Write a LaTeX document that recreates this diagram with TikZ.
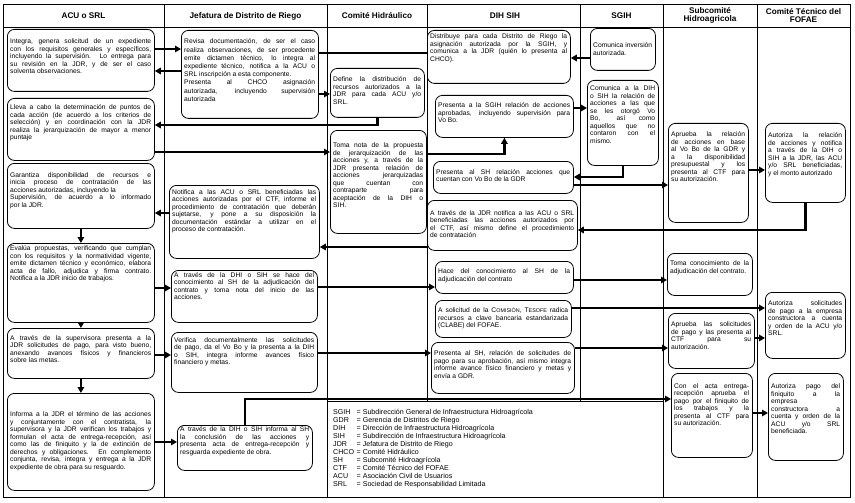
\documentclass[tikz,border=0pt]{standalone}
\usepackage{fontspec}
\setmainfont{Liberation Sans}
\usetikzlibrary{arrows.meta}
\newcommand\bxfont{\fontsize{6.7pt}{7.5pt}\selectfont\lineskiplimit=-5pt }
\newcommand\lgfont{\fontsize{7.1pt}{8pt}\selectfont\lineskiplimit=-5pt }
\newcommand\jl[1]{\hbox to\hsize{#1}}
\newcommand\lastl[1]{\hbox{#1}}
\newcommand\smc[1]{{\fontsize{5.4pt}{7.5pt}\selectfont #1}}
\newcommand\lgl[2]{\hbox{\hbox to 23.5pt{#1\hss}= #2}}
\tikzset{
  bx/.style={draw, rounded corners=7pt, line width=0.8pt, anchor=north west, inner sep=0pt},
  arr/.style={line width=2.2pt, -{Triangle[length=6pt,width=6.5pt]}},
  ln/.style={line width=2.2pt},
  div/.style={line width=0.6pt},
  frm/.style={line width=1pt},
  hd/.style={font=\fontsize{8.2pt}{8pt}\selectfont\bfseries, align=center, inner sep=0pt}
}
\newcommand\flowbox[7]{%
  \node[bx, minimum width=#4pt, minimum height=#5pt] (#1) at (#2,#3) {};
  \node[anchor=base west, inner sep=0pt] (#1t) at ([shift={(3,#6)}]#1.north west) {\vtop{\hsize=\dimexpr#4pt-6pt\relax\bxfont #7}};
}
\begin{document}
\begin{tikzpicture}[x=1pt,y=-1pt]
\useasboundingbox (0,0) rectangle (855,503);
% frame and lanes
\draw[frm] (3,5) rectangle (850,497);
\draw[div] (3,27) -- (850,27);
\draw[div] (164,5) -- (164,497);
\draw[div] (327,5) -- (327,497);
\draw[div] (427,5) -- (427,401);
\draw[div] (580,5) -- (580,401);
\draw[div] (663,5) -- (663,497);
\draw[div] (757,5) -- (757,497);
\draw[div] (327,401) -- (663,401);
% headers
\node[hd] (h1) at (83.5,16) {ACU o SRL};
\node[hd] (h2) at (245.5,16) {Jefatura de Distrito de Riego};
\node[hd] (h3) at (377,16) {Comité Hidráulico};
\node[hd] (h4) at (505,16) {DIH SIH};
\node[hd] (h5) at (621.5,16) {SGIH};
\node[hd] (h6) at (710,15.5) {Subcomité\\Hidroagricola};
\node[hd] (h7) at (803.5,15.5) {Comité Técnico del\\FOFAE};
% ACU o SRL
\flowbox{A1}{7}{29}{147}{62}{15}{%
\jl{Integra, genera solicitud de un expediente}
\jl{con los requisitos generales y específicos,}
\jl{incluyendo la supervisión. Lo entrega para}
\jl{su revisión en la JDR, y de ser el caso}
\lastl{solventa observaciones.}}
\flowbox{A2}{7}{98}{147}{62}{12}{%
\jl{Lleva a cabo la determinación de puntos de}
\jl{cada acción (de acuerdo a los criterios de}
\jl{selección) y en coordinación con la JDR}
\jl{realiza la jerarquización de mayor a menor}
\lastl{puntaje}}
\flowbox{A3}{7}{163}{147}{65}{14}{%
\jl{Garantiza disponibilidad de recursos e}
\jl{inicia proceso de contratación de las}
\lastl{acciones autorizadas, incluyendo la}
\jl{Supervisión, de acuerdo a lo informado}
\lastl{por la JDR.}}
\flowbox{A4}{7}{243}{147}{79}{7.5}{%
\jl{Evalúa propuestas, verificando que cumplan}
\jl{con los requisitos y la normatividad vigente,}
\jl{emite dictamen técnico y económico, elabora}
\jl{acta de fallo, adjudica y firma contrato.}
\lastl{Notifica a la JDR inicio de trabajos.}}
\flowbox{A5}{7}{328}{147}{50}{12}{%
\jl{A través de la supervisora presenta a la}
\jl{JDR solicitudes de pago, para visto bueno,}
\jl{anexando avances físicos y financieros}
\lastl{sobre las metas.}}
\flowbox{A6}{7}{393}{147}{97}{23.5}{%
\jl{Informa a la JDR el término de las acciones}
\jl{y conjuntamente con el contratista, la}
\jl{supervisora y la JDR verifican los trabajos y}
\jl{formulan el acta de entrega-recepción, así}
\jl{como las de finiquito y la de extinción de}
\jl{derechos y obligaciones. En complemento}
\jl{conjunta, revisa, integra y entrega a la JDR}
\lastl{expediente de obra para su resguardo.}}
% Jefatura
\flowbox{J1}{181}{30}{137}{88}{14}{\baselineskip=8.2pt
\jl{Revisa documentación, de ser el caso}
\jl{realiza observaciones, de ser procedente}
\jl{emite dictamen técnico, lo integra al}
\jl{expediente técnico, notifica a la ACU o}
\lastl{SRL inscripción a esta componente.}
\jl{Presenta al CHCO asignación}
\jl{autorizada, incluyendo supervisión}
\lastl{autorizada}}
\flowbox{J2}{169}{185}{150}{73}{9}{%
\jl{Notifica a las ACU o SRL beneficiadas las}
\jl{acciones autorizadas por el CTF, informe el}
\jl{procedimiento de contratación que deberán}
\jl{sujetarse, y pone a su disposición la}
\jl{documentación estándar a utilizar en el}
\lastl{proceso de contratación.}}
\flowbox{J3}{171}{270}{146}{52}{7}{%
\jl{A través de la DHI o SIH se hace del}
\jl{conocimiento al SH de la adjudicación del}
\jl{contrato y toma nota del inicio de las}
\lastl{acciones.}}
\flowbox{J4}{171}{332}{146}{60}{10}{%
\jl{Verifica documentalmente las solicitudes}
\jl{de pago, da el Vo Bo y la presenta a la DIH}
\jl{o SIH, integra informe avances físico}
\lastl{financiero y metas.}}
\flowbox{J5}{177}{425}{135}{45}{6.5}{%
\jl{A través de la DIH o SIH informa al SH}
\jl{la conclusión de las acciones y}
\jl{presenta acta de entrega-recepción y}
\lastl{resguarda expediente de obra.}}
% Comite Hidraulico
\flowbox{C1}{330}{68}{94}{49}{13.5}{%
\jl{Define la distribución de}
\jl{recursos autorizados a la}
\jl{JDR para cada ACU y/o}
\lastl{SRL.}}
\flowbox{C2}{330}{130}{96}{103}{17.5}{%
\jl{Toma nota de la propuesta}
\jl{de jerarquización de las}
\jl{acciones y, a través de la}
\jl{JDR presenta relación de}
\jl{acciones jerarquizadas}
\jl{que cuentan con}
\jl{contraparte para}
\jl{aceptación de la DIH o}
\lastl{SIH.}}
% DIH SIH
\flowbox{D1}{427}{30}{143}{53}{9}{%
\jl{Distribuye para cada Distrito de Riego la}
\jl{asignación autorizada por la SGIH, y}
\jl{comunica a la JDR (quién lo presenta al}
\lastl{CHCO).}}
\flowbox{D2}{435}{95}{138}{42}{13}{%
\jl{Presenta a la SGIH relación de acciones}
\jl{aprobadas, incluyendo supervisión para}
\lastl{Vo Bo.}}
\flowbox{D3}{433}{161}{140}{32}{13}{%
\jl{Presenta al SH relación acciones que}
\lastl{cuentan con Vo Bo de la GDR}}
\flowbox{D4}{427}{200}{150}{50}{15}{%
\jl{A través de la JDR notifica a las ACU o SRL}
\jl{beneficiadas las acciones autorizados por}
\jl{el CTF, así mismo define el procedimiento}
\lastl{de contratación}}
\flowbox{D5}{435}{261}{138}{32}{12.5}{%
\jl{Hace del conocimiento al SH de la}
\lastl{adjudicación del contrato}}
\flowbox{D6}{435}{300}{136}{37}{12.5}{%
\jl{A solicitud de la C\smc{OMISIÓN}, T\smc{ESOFE} radica}
\jl{recursos a clave bancaria estandarizada}
\lastl{(CLABE) del FOFAE.}}
\flowbox{D7}{431}{342}{143}{51}{13.5}{%
\jl{Presenta al SH, relación de solicitudes de}
\jl{pago para su aprobación, así mismo integra}
\jl{informe avance físico financiero y metas y}
\lastl{envía a GDR.}}
% SGIH
\flowbox{G1}{590}{28}{65}{42}{20}{%
\jl{Comunica inversión}
\lastl{autorizada.}}
\flowbox{G2}{587}{80}{71}{85}{11}{%
\jl{Comunica a la DIH}
\jl{o SIH la relación de}
\jl{acciones a las que}
\jl{se les otorgó Vo}
\jl{Bo, así como}
\jl{aquellos que no}
\jl{contaron con el}
\lastl{mismo.}}
% Subcomite
\flowbox{S1}{668}{123}{80}{99}{13.5}{%
\jl{Aprueba la relación}
\jl{de acciones en base}
\jl{al Vo Bo de la GDR y}
\jl{a la disponibilidad}
\jl{presupuestal y los}
\jl{presenta al CTF para}
\lastl{su autorización.}}
\flowbox{S2}{667}{253}{85}{42}{12.5}{%
\jl{Toma conocimiento de la}
\lastl{adjudicación del contrato.}}
\flowbox{S3}{668}{313}{86}{55}{13.5}{%
\jl{Aprueba las solicitudes}
\jl{de pago y las presenta al}
\jl{CTF para su}
\lastl{autorización.}}
\flowbox{S4}{671}{373}{81}{84}{15}{%
\jl{Con el acta entrega-}
\jl{recepción aprueba el}
\jl{pago por el finiquito de}
\jl{los trabajos y la}
\jl{presenta al CTF para}
\lastl{su autorización.}}
% Comite Tecnico
\flowbox{T1}{765}{123}{80}{79}{15}{%
\jl{Autoriza la relación}
\jl{de acciones y notifica}
\jl{a través de la DIH o}
\jl{SIH a la JDR, las ACU}
\jl{y/o SRL beneficiadas,}
\lastl{y el monto autorizado}}
\flowbox{T2}{765}{292}{80}{66}{13.5}{%
\jl{Autoriza solicitudes}
\jl{de pago a la empresa}
\jl{constructora a cuenta}
\jl{y orden de la ACU y/o}
\lastl{SRL.}}
\flowbox{T3}{768}{373}{75}{87}{15.5}{%
\jl{Autoriza pago del}
\jl{finiquito a la}
\lastl{empresa}
\jl{constructora a}
\jl{cuenta y orden de la}
\jl{ACU y/o SRL}
\lastl{beneficiada.}}
% legend
\node[anchor=base west, inner sep=0pt] (lg) at (333,414) {\vtop{\lgfont
\lgl{SGIH}{Subdirección General de Infraestructura Hidroagrícola}
\lgl{GDR}{Gerencia de Distritos de Riego}
\lgl{DIH}{Dirección de Infraestructura Hidroagrícola}
\lgl{SIH}{Subdirección de Infraestructura Hidroagrícola}
\lgl{JDR}{Jefatura de Distrito de Riego}
\lgl{CHCO}{Comité Hidráulico}
\lgl{SH}{Subcomité Hidroagrícola}
\lgl{CTF}{Comité Técnico del FOFAE}
\lgl{ACU}{Asociación Civil de Usuarios}
\lgl{SRL}{Sociedad de Responsabilidad Limitada}}};
% connectors
\draw[arr] (A1.east|-0,49) -- (J1.west|-0,49);
\draw[arr] (J1.west|-0,71) -- (A1.east|-0,71);
\draw[ln] (D1.west|-0,53) -- (J1.east|-0,53);
\draw[arr] (J1.east|-0,94) -- (C1.west|-0,94);
\draw[arr] (C1.south) |- (A2.east|-0,125);
\draw[arr] (A2.east|-0,152) -- (C2.west|-0,152);
\draw[arr] (C2.east|-0,154) -| (D2.south);
\draw[arr] (G1.west|-0,58) -- (D1.east|-0,58);
\draw[arr] (D2.east|-0,108) -- (G2.west|-0,108);
\draw[arr] (G2.south) |- (D3.east|-0,177);
\draw[arr] (D3.east|-0,185) -- (S1.west|-0,185);
\draw[arr] (S1.east|-0,170) -- (T1.west|-0,170);
\draw[arr] (T1.south) |- (D4.east|-0,230);
\draw[arr] (D4.west|-0,247) -- (J2.east|-0,247);
\draw[arr] (J2.west|-0,213) -- (A3.east|-0,213);
\draw[arr] (A3.south) -- (A4.north);
\draw[arr] (A4.east|-0,288) -- (J3.west|-0,288);
\draw[arr] (J3.east|-0,287) -- (D5.west|-0,287);
\draw[arr] (D5.east|-0,280) -- (S2.west|-0,280);
\draw[arr] (A4.south) -- (A5.north);
\draw[arr] (A5.east|-0,355) -- (J4.west|-0,355);
\draw[arr] (J4.east|-0,353) -- (D7.west|-0,353);
\draw[arr] (D7.east|-0,348) -- (S3.west|-0,348);
\draw[arr] (D6.east|-0,308) -- (T2.west|-0,308);
\draw[arr] (S3.east|-0,338) -- (T2.west|-0,338);
\draw[arr] (A5.south) -- (A6.north);
\draw[arr] (A6.east|-0,442) -- (J5.west|-0,442);
\draw[arr] (J5.north) |- (S4.west|-0,399);
\draw[arr] (S4.east|-0,413) -- (T3.west|-0,413);
\end{tikzpicture}
\end{document}
